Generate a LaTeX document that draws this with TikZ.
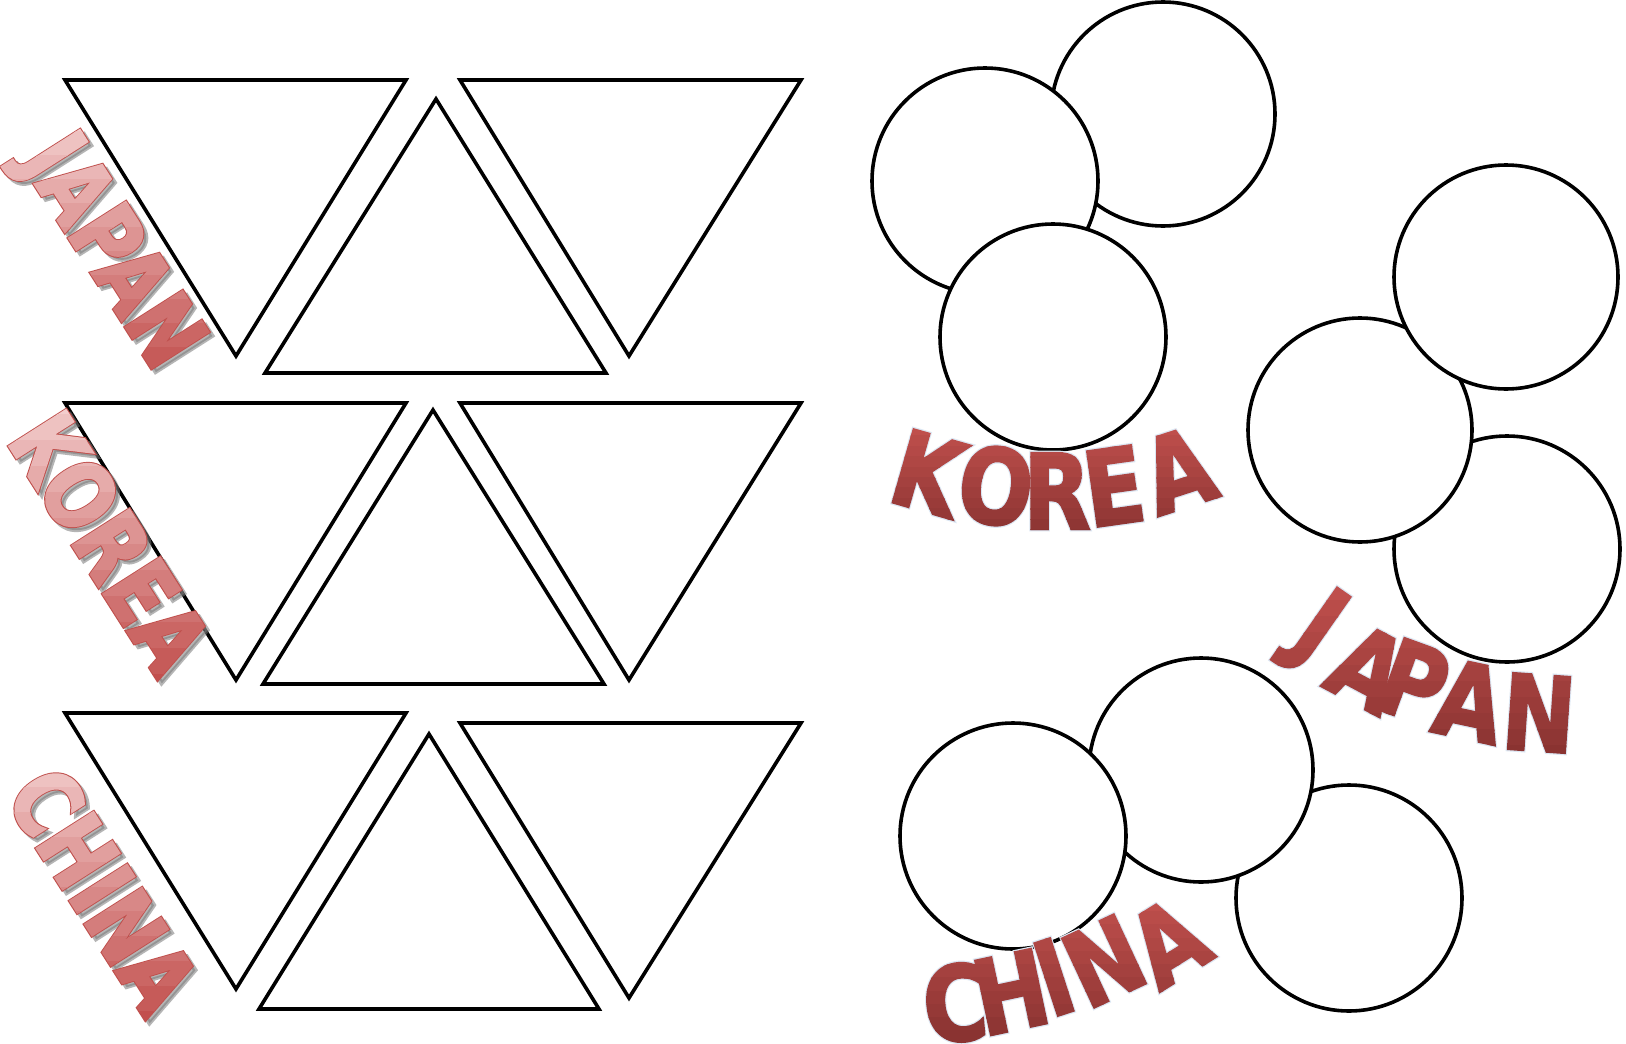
\documentclass[tikz,border=0pt]{standalone}
\usepackage{fontspec}
\newfontfamily\heavy{DejaVu Sans Bold}[FakeBold=2.4]
\newfontfamily\heavyo{DejaVu Sans Bold}[FakeBold=4.8]
\definecolor{lwtop}{HTML}{F3CDCD}
\definecolor{lwbot}{HTML}{C24F4D}
\definecolor{lwline}{HTML}{C0504D}
\definecolor{lwshadow}{HTML}{7A7A7A}
\definecolor{rwtop}{HTML}{C4524F}
\definecolor{rwbot}{HTML}{8A3331}
\definecolor{rwglow}{HTML}{DCE7F3}
\newcommand{\Bands}[5]{%
  \foreach \bi in {0,...,11}{%
    \pgfmathsetmacro{\pct}{100*\bi/11}%
    \colorlet{bandc}{#4!\pct!#3}%
    \begin{scope}
      \clip (0,{#1+(#2-#1)*\bi/12}) rectangle (1626,{#1+(#2-#1)*(\bi+1)/12+0.6});
      #5
    \end{scope}
  }%
}
\newcommand{\LeftWord}[6]{% #1 x, #2 y, #3 text, #4 ytop, #5 ybot, #6 name
  \node[lword, font=\heavyo\lwsize, text=lwshadow, text opacity=0.55] (#6) at ({#1+4},{#2+4}) {#3};
  \node[lword, font=\heavyo\lwsize, text=lwline] at (#1,#2) {#3};
  \Bands{#4}{#5}{lwtop}{lwbot}{\node[lword, text=bandc] at (#1,#2) {#3};}
}
\newcommand{\RightWord}[4]{% #1 ytop, #2 ybot, #3 letters x/y/rot/letter, #4 name
  \coordinate (#4) at (0,#1);
  \foreach \lx/\ly/\lr/\lt in {#3}{\node[rotate=\lr, rword, font=\heavyo\rwsize, text=rwglow] at (\lx,\ly) {\lt};}
  \Bands{#1}{#2}{rwtop}{rwbot}{\foreach \lx/\ly/\lr/\lt in {#3}{\node[rotate=\lr, rword, text=bandc] at (\lx,\ly) {\lt};}}
}
\newcommand{\lwsize}{\fontsize{92}{92}\selectfont}
\newcommand{\rwsize}{\fontsize{104}{104}\selectfont}
\tikzset{
  shp/.style={draw=black, line width=3.6, line join=miter, fill=white},
  lword/.style={font=\heavy\lwsize, rotate=-57.5, xscale=0.81, inner sep=0},
  rword/.style={font=\heavy\rwsize, xscale=0.84, inner sep=0},
}
\begin{document}
\begin{tikzpicture}[x=1pt, y=-1pt]
\useasboundingbox (0,0) rectangle (1626,1044);
\fill[white] (0,0) rectangle (1626,1044);
% ---- triangles, row 1
\draw[shp] (65,80) -- (406,80) -- (236,356) -- cycle;
\draw[shp] (436,99) -- (606,373) -- (265,373) -- cycle;
\draw[shp] (460,80) -- (801,80) -- (629,356) -- cycle;
% ---- row 2
\draw[shp] (65,403) -- (406,403) -- (236,680) -- cycle;
\draw[shp] (433,410) -- (604,684) -- (263,684) -- cycle;
\draw[shp] (460,403) -- (801,403) -- (629,680) -- cycle;
% ---- row 3
\draw[shp] (65,713) -- (406,713) -- (236,989) -- cycle;
\draw[shp] (429,734) -- (599,1009) -- (259,1009) -- cycle;
\draw[shp] (460,723) -- (801,723) -- (629,998) -- cycle;
% ---- left labels
\LeftWord{108}{254}{JAPAN}{108}{395}{ljapan}
\LeftWord{110}{542}{KOREA}{388}{700}{lkorea}
\LeftWord{103}{890}{CHINA}{738}{1036}{lchina}
% ---- circles: Korea group
\draw[shp] (1163,114) circle[radius=112];
\draw[shp] (985,181) circle[radius=113];
\draw[shp] (1053,337) circle[radius=113];
% ---- Japan group
\draw[shp] (1507,549) circle[radius=113];
\draw[shp] (1360,430) circle[radius=112];
\draw[shp] (1506,277) circle[radius=112];
% ---- China group
\draw[shp] (1349,898) circle[radius=113];
\draw[shp] (1201,770) circle[radius=112];
\draw[shp] (1013,836) circle[radius=113];
% ---- right labels
\RightWord{415}{540}{928/473/-16/K,996/486/-8/O,1057/491/0/R,1114/486/8/E,1178/470/18/A}{rkorea}
\RightWord{568}{762}{1316/632/-35/J,1368/668/-28/A,1414/682/-20/P,1470/701/-12/A,1539/713/-4/N}{rjapan}
\RightWord{885}{1044}{955/1003/5/C,1011/992/12/H,1054/977/18/I,1104/961/25/N,1168/942/32/A}{rchina}
\end{tikzpicture}
\end{document}
